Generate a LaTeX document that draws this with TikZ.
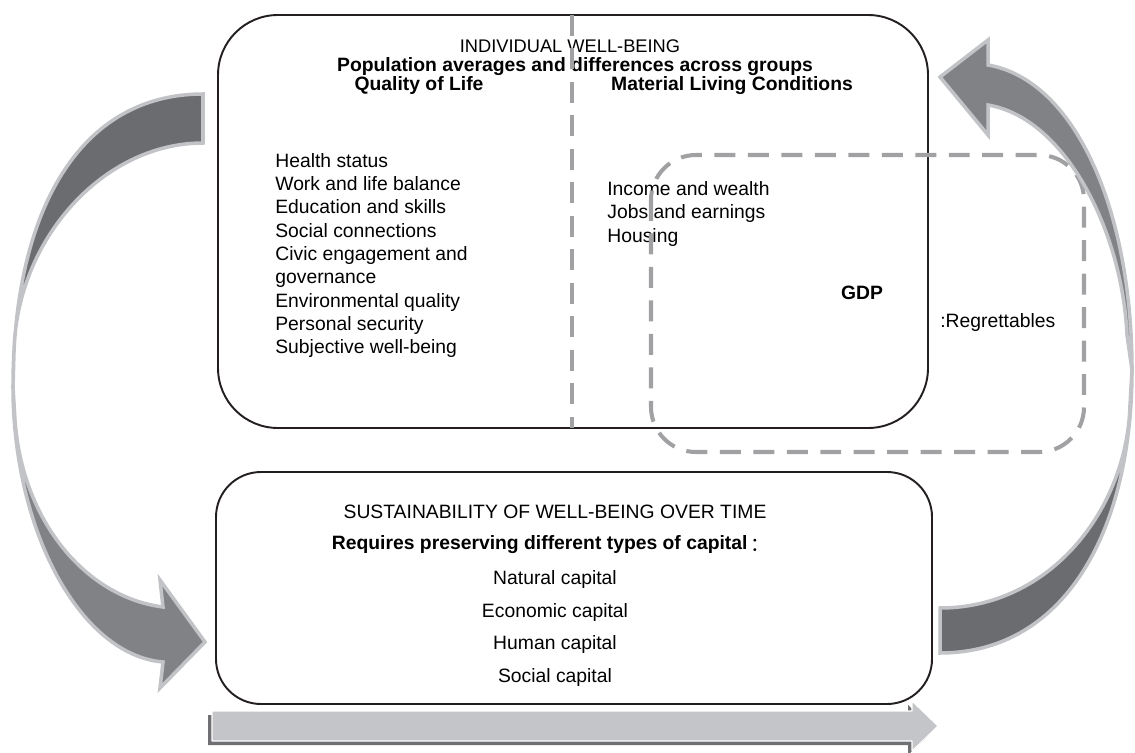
\documentclass[tikz,border=0pt]{standalone}
\usepackage{fontspec}
\setmainfont{Liberation Sans}
\newfontfamily\cjkfont{Noto Sans CJK SC}
\definecolor{edge}{HTML}{231F20}
\definecolor{dashgray}{HTML}{A1A1A4}
\definecolor{rim}{HTML}{C2C3C6}
\definecolor{backface}{HTML}{6B6C70}
\definecolor{frontface}{HTML}{818286}
\definecolor{barlight}{HTML}{C4C5C8}
\definecolor{bardark}{HTML}{707074}

\begin{document}
\begin{tikzpicture}[x=0.02cm,y=-0.02cm,line join=round,
  box/.style={draw=edge,line width=1.1pt,rounded corners=#1},
  cut/.style={draw=dashgray,line width=2.3pt,dash pattern=on 0.42cm off 0.25cm},
  txt/.style={inner sep=0pt,anchor=base,font=\fontsize{11}{13}\selectfont},
  hdr/.style={txt,font=\fontsize{11}{13}\selectfont\bfseries},
  item/.style={txt,anchor=base west},
  band/.style={draw=rim,line width=2pt,line join=miter}]
    \useasboundingbox(0,0)rectangle(1135,753);
    % boxes
    \draw[box=1.2cm](218,15)rectangle(928,428);
    \draw[box=0.9cm](216,472)rectangle(932,704);
    % top box texts
    \node[txt,font=\fontsize{10.4}{12.5}\selectfont](iwb)at(570,52.5){INDIVIDUAL WELL-BEING};
    \node[hdr](pop)at(575,71.5){Population averages and differences across groups};
    \node[hdr](qol)at(419,90.5){Quality of Life};
    \node[hdr](mlc)at(732,90.5){Material Living Conditions};
    \foreach \t[count=\i] in{Health status,Work and life balance,Education and skills,Social connections,Civic engagement and,governance,Environmental quality,Personal security,Subjective well-being}
      \node[item](q\i)at(275,{167.5+23.25*(\i-1)}){\t};
    \foreach \t[count=\i] in{Income and wealth,Jobs and earnings,Housing}
      \node[item](m\i)at(607,{195.5+23.4*(\i-1)}){\t};
    \node[hdr](gdp)at(862,299.5){GDP};
    \node[item](reg)at(940,327){:Regrettables};
    % bottom box texts
    \node[txt](sus)at(555,518.5){SUSTAINABILITY OF WELL-BEING OVER TIME};
    \node[hdr](req)at(551,549.5){Requires preserving different types of capital\,{\normalfont\cjkfont\raisebox{-1.2pt}{：}}};
    \foreach \t[count=\i] in{Natural capital,Economic capital,Human capital,Social capital}
      \node[txt](c\i)at(555,{584.5+32.6*(\i-1)}){\t};
    % dashed split and GDP frame
    \draw[cut](572,15)--(572,428);
    \draw[cut,rounded corners=0.9cm](651,155)rectangle(1084,452);
    % left curved arrow
    \path(203,94)coordinate(lt1)(203,143)coordinate(lt2)(13,387)coordinate(lw)(14,352)coordinate(lb)(15,420)coordinate(lf)
      (163,607)coordinate(lh1)(160,580)coordinate(lh2)(205,642)coordinate(ltip)(160,688)coordinate(lh3)(163,662)coordinate(lh4);
    \draw[band,fill=backface](lt1)..controls(80,94)and(13,210)..(lw)--(lb)..controls(16,240)and(103,143)..(lt2)--cycle;
    \draw[band,fill=frontface](lw)..controls(13,530)and(80,655)..(lh4)--(lh3)--(ltip)--(lh2)--(lh1)..controls(85,597)and(22,520)..(lf)--cycle;
    % right curved arrow
    \path(940,608)coordinate(rt1)(940,653)coordinate(rt2)(1132,370)coordinate(rw)(1130,405)coordinate(rb)(1127,335)coordinate(rf)
      (988,105)coordinate(rh1)(988,135)coordinate(rh2)(940,77)coordinate(rtip)(988,40)coordinate(rh3)(988,65)coordinate(rh4);
    \draw[band,fill=backface](rt2)..controls(1065,653)and(1132,530)..(rw)--(rb)..controls(1127,510)and(1050,608)..(rt1)--cycle;
    \draw[band,fill=frontface](rw)..controls(1132,210)and(1075,80)..(rh4)--(rh3)--(rtip)--(rh2)--(rh1)..controls(1065,118)and(1122,230)..(rf)--cycle;
    % time arrow
    \fill[bardark,shift={(-4,4)}](212,711)--(912,711)--(912,701)--(938,726)--(912,751)--(912,741)--(212,741)--cycle;
    \draw[white,fill=barlight,line width=.6pt](212,711)--(912,711)--(912,701)--(938,726)--(912,751)--(912,741)--(212,741)--cycle;
\end{tikzpicture}
\end{document}
